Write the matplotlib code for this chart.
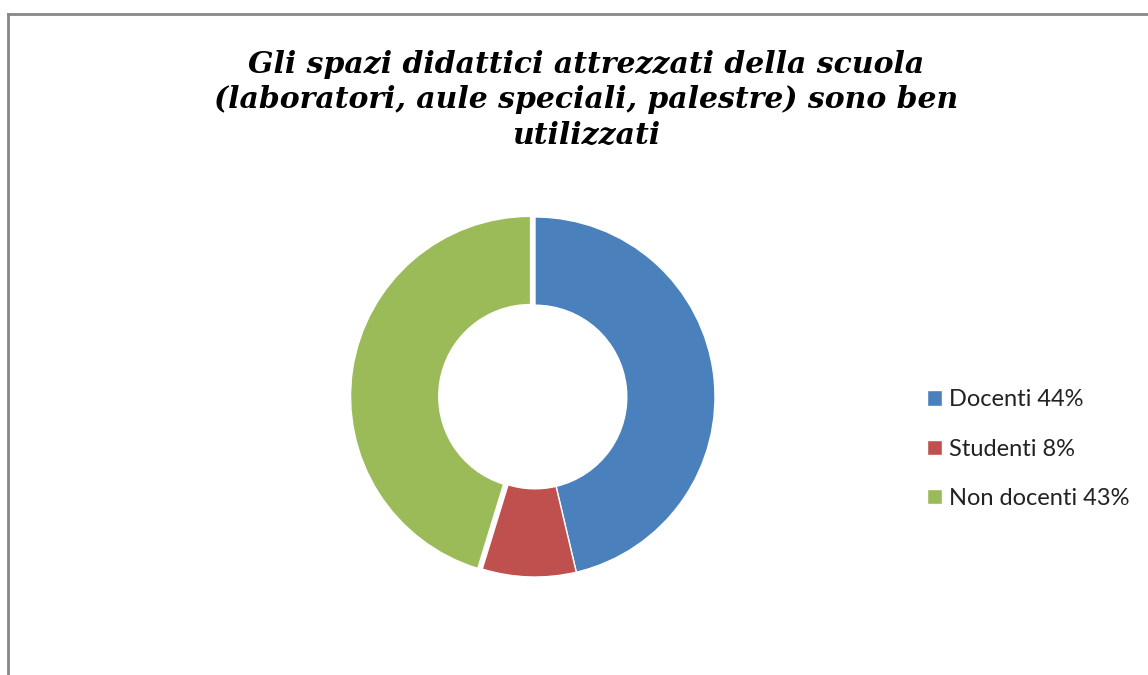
import matplotlib
matplotlib.use("Agg")
from matplotlib import pyplot as plt
from matplotlib.lines import Line2D

# data
categories = ["Docenti", "Studenti", "Non docenti"]
values = [44, 8, 43]
colors = ["#4a81bd", "#c0504d", "#9bbb59"]
explode = [0, 0, 0.025]

TITLE = ("Gli spazi didattici attrezzati della scuola\n"
         "(laboratori, aule speciali, palestre) sono ben\n"
         "utilizzati")

W, H = 1148, 675


def main():
    fig = plt.figure(figsize=(W / 100, H / 100), dpi=100)

    # grey frame of the chart area (only top and left visible)
    fig.add_artist(Line2D([8 / W, 1], [1 - 14 / H, 1 - 14 / H], transform=fig.transFigure,
                          color="#888888", lw=2))
    fig.add_artist(Line2D([8 / W, 8 / W], [0, 1 - 14 / H], transform=fig.transFigure,
                          color="#888888", lw=2))

    # title
    fig.text(586 / W, 1 - 100 / H, TITLE, ha="center", va="center",
             family="DejaVu Serif", weight="bold", style="italic",
             fontsize=21.5, linespacing=1.28)

    # doughnut
    cx, cy, r = 535, 397, 180
    ax = fig.add_axes([(cx - r) / W, (H - cy - r) / H, 2 * r / W, 2 * r / H])
    wedges, _ = ax.pie(values, colors=colors, startangle=90, counterclock=False,
                       explode=explode, radius=1.0,
                       wedgeprops=dict(width=0.49, edgecolor="white", linewidth=1))
    ax.set_xlim(-1, 1)
    ax.set_ylim(-1, 1)
    ax.set_aspect("equal")
    ax.axis("off")

    labels = [f"{c} {v}%" for c, v in zip(categories, values)]
    fig.legend(wedges, labels, loc="center left",
               bbox_to_anchor=(906 / W, 1 - 449 / H),
               frameon=False, prop=dict(family="Lato", size=17),
               handlelength=0.62, handleheight=0.62, handletextpad=0.3,
               labelspacing=1.2, labelcolor="#222222")

    fig.savefig("out.png", dpi=100)


if __name__ == "__main__":
    main()
